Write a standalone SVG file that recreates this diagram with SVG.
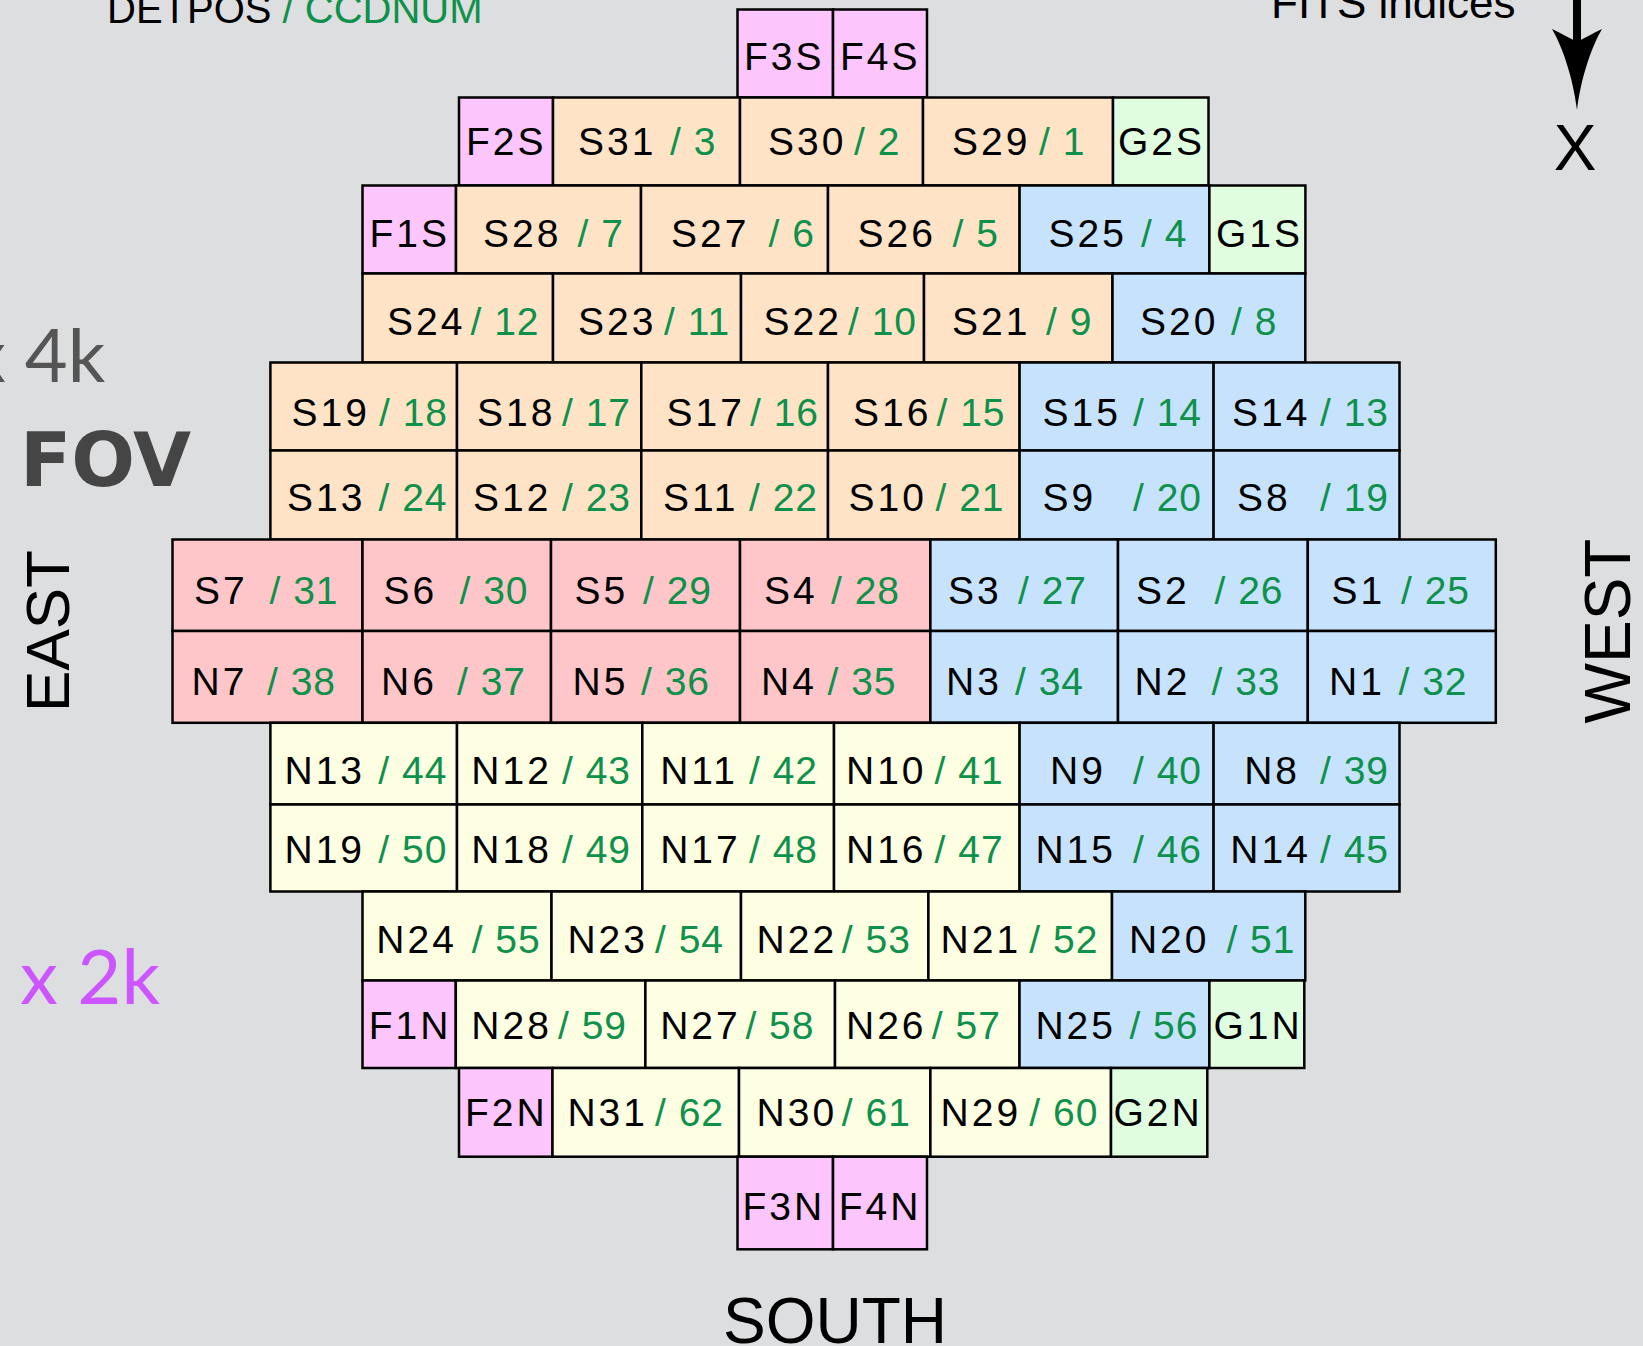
<svg xmlns="http://www.w3.org/2000/svg" width="1643" height="1346" viewBox="0 0 1643 1346">
<style>
.bg{fill:#dddee0}
rect.c{stroke:#000;stroke-width:2.5}
.f{fill:#fcc5fc}.s{fill:#fee3c7}.b{fill:#c6e2fd}.r{fill:#fec6c8}.y{fill:#fefee3}.g{fill:#e0fde0}
text{font-family:"Liberation Sans",Arial,sans-serif}
.t{font-size:39px;fill:#000;letter-spacing:3px}
.gn{fill:#0e914a;letter-spacing:1px}
.lbl{font-size:64px;fill:#000;letter-spacing:0}
</style>
<rect class="bg" x="0" y="0" width="1643" height="1346"/>

<g id="legend">
<text x="107" y="23" style="font-size:40px"><tspan fill="#000">DETPOS </tspan><tspan class="gn" style="letter-spacing:0">/ CCDNUM</tspan></text>
<text x="1271" y="18" style="font-size:44px">FITS indices</text>
<text x="1575" y="170" class="lbl" text-anchor="middle">X</text>
<text x="-31" y="382" style="font-family:Lato,'Liberation Sans',sans-serif;font-size:74px;fill:#555">x 4k</text>
<text x="20" y="486" style="font-family:'DejaVu Sans',sans-serif;font-weight:bold;font-size:75px;fill:#454545">FOV</text>
<text x="20" y="1004" style="font-family:Lato,'Liberation Sans',sans-serif;font-size:76px;fill:#cc55ff">x 2k</text>
<text class="lbl" transform="translate(69,631) rotate(-90)" text-anchor="middle" style="font-size:62px">EAST</text>
<text class="lbl" transform="translate(1630,631) rotate(-90)" text-anchor="middle">WEST</text>
<text class="lbl" x="835" y="1343" text-anchor="middle">SOUTH</text>
</g>

<g id="fits-axis">
<rect x="1573" y="0" width="8" height="45" fill="#000"/>
<path d="M1577,110 C1573,78 1563,48 1552,29 C1562,34 1570,38 1577,42 C1584,38 1592,34 1602,29 C1591,48 1581,78 1577,110 Z" fill="#000"/>
</g>

<g id="connectors"></g>

<!-- Row 0 -->
<g id="F3S"><rect class="c f" x="737.5" y="9.5" width="95.5" height="88"/><text class="t" x="744" y="70">F3S</text></g>
<g id="F4S"><rect class="c f" x="833" y="9.5" width="94" height="88"/><text class="t" x="840" y="70">F4S</text></g>

<!-- Row 1 -->
<g id="F2S"><rect class="c f" x="459" y="97.5" width="94" height="88"/><text class="t" x="466" y="154.5">F2S</text></g>
<g id="S31"><rect class="c s" x="553" y="97.5" width="187" height="88"/><text class="t" y="154.5"><tspan x="578">S31</tspan><tspan class="gn" x="670">/ 3</tspan></text></g>
<g id="S30"><rect class="c s" x="740" y="97.5" width="183" height="88"/><text class="t" y="154.5"><tspan x="768">S30</tspan><tspan class="gn" x="854">/ 2</tspan></text></g>
<g id="S29"><rect class="c s" x="923" y="97.5" width="190" height="88"/><text class="t" y="154.5"><tspan x="952">S29</tspan><tspan class="gn" x="1039">/ 1</tspan></text></g>
<g id="G2S"><rect class="c g" x="1113" y="97.5" width="95.5" height="88"/><text class="t" x="1118" y="154.5">G2S</text></g>

<!-- Row 2 -->
<g id="F1S"><rect class="c f" x="362.5" y="185.5" width="93.5" height="88"/><text class="t" x="369.5" y="246.5">F1S</text></g>
<g id="S28"><rect class="c s" x="456" y="185.5" width="185" height="88"/><text class="t" y="246.5"><tspan x="483">S28</tspan><tspan class="gn" x="577.5">/ 7</tspan></text></g>
<g id="S27"><rect class="c s" x="641" y="185.5" width="187" height="88"/><text class="t" y="246.5"><tspan x="671">S27</tspan><tspan class="gn" x="768.5">/ 6</tspan></text></g>
<g id="S26"><rect class="c s" x="828" y="185.5" width="191.6" height="88"/><text class="t" y="246.5"><tspan x="857.5">S26</tspan><tspan class="gn" x="952.5">/ 5</tspan></text></g>
<g id="S25"><rect class="c b" x="1019.6" y="185.5" width="189.8" height="88"/><text class="t" y="246.5"><tspan x="1048.5">S25</tspan><tspan class="gn" x="1141">/ 4</tspan></text></g>
<g id="G1S"><rect class="c g" x="1209.4" y="185.5" width="96" height="88"/><text class="t" x="1216" y="246.5">G1S</text></g>

<!-- Row 3 -->
<g id="S24"><rect class="c s" x="362.5" y="273.5" width="190.5" height="89"/><text class="t" y="335"><tspan x="387">S24</tspan><tspan class="gn" x="470.5">/ 12</tspan></text></g>
<g id="S23"><rect class="c s" x="553" y="273.5" width="188" height="89"/><text class="t" y="335"><tspan x="578">S23</tspan><tspan class="gn" x="664">/ 11</tspan></text></g>
<g id="S22"><rect class="c s" x="741" y="273.5" width="183" height="89"/><text class="t" y="335"><tspan x="763.5">S22</tspan><tspan class="gn" x="848">/ 10</tspan></text></g>
<g id="S21"><rect class="c s" x="924" y="273.5" width="188.5" height="89"/><text class="t" y="335"><tspan x="952">S21</tspan><tspan class="gn" x="1046">/ 9</tspan></text></g>
<g id="S20"><rect class="c b" x="1112.5" y="273.5" width="192.8" height="89"/><text class="t" y="335"><tspan x="1140">S20</tspan><tspan class="gn" x="1231">/ 8</tspan></text></g>

<!-- Row 4 -->
<g id="S19"><rect class="c s" x="270.4" y="362.5" width="186.6" height="88"/><text class="t" y="425.5"><tspan x="291.5">S19</tspan><tspan class="gn" x="379">/ 18</tspan></text></g>
<g id="S18"><rect class="c s" x="457" y="362.5" width="184.3" height="88"/><text class="t" y="425.5"><tspan x="477">S18</tspan><tspan class="gn" x="562">/ 17</tspan></text></g>
<g id="S17"><rect class="c s" x="641.3" y="362.5" width="186.7" height="88"/><text class="t" y="425.5"><tspan x="666.5">S17</tspan><tspan class="gn" x="750">/ 16</tspan></text></g>
<g id="S16"><rect class="c s" x="828" y="362.5" width="191.6" height="88"/><text class="t" y="425.5"><tspan x="853">S16</tspan><tspan class="gn" x="936.5">/ 15</tspan></text></g>
<g id="S15"><rect class="c b" x="1019.6" y="362.5" width="194" height="88"/><text class="t" y="425.5"><tspan x="1042.5">S15</tspan><tspan class="gn" x="1133">/ 14</tspan></text></g>
<g id="S14"><rect class="c b" x="1213.6" y="362.5" width="185.9" height="88"/><text class="t" y="425.5"><tspan x="1232">S14</tspan><tspan class="gn" x="1320">/ 13</tspan></text></g>

<!-- Row 5 -->
<g id="S13"><rect class="c s" x="270.4" y="450.5" width="186.6" height="89"/><text class="t" y="510.5"><tspan x="287">S13</tspan><tspan class="gn" x="378.5">/ 24</tspan></text></g>
<g id="S12"><rect class="c s" x="457" y="450.5" width="184.3" height="89"/><text class="t" y="510.5"><tspan x="473">S12</tspan><tspan class="gn" x="562">/ 23</tspan></text></g>
<g id="S11"><rect class="c s" x="641.3" y="450.5" width="186.7" height="89"/><text class="t" y="510.5"><tspan x="663">S11</tspan><tspan class="gn" x="749">/ 22</tspan></text></g>
<g id="S10"><rect class="c s" x="828" y="450.5" width="191.6" height="89"/><text class="t" y="510.5"><tspan x="848.5">S10</tspan><tspan class="gn" x="935.5">/ 21</tspan></text></g>
<g id="S9"><rect class="c b" x="1019.6" y="450.5" width="194" height="89"/><text class="t" y="510.5"><tspan x="1042.5">S9</tspan><tspan class="gn" x="1133">/ 20</tspan></text></g>
<g id="S8"><rect class="c b" x="1213.6" y="450.5" width="185.9" height="89"/><text class="t" y="510.5"><tspan x="1237">S8</tspan><tspan class="gn" x="1320">/ 19</tspan></text></g>

<!-- Row 6 -->
<g id="S7"><rect class="c r" x="172.5" y="539.5" width="190" height="91.5"/><text class="t" y="603.5"><tspan x="194">S7</tspan><tspan class="gn" x="269.5">/ 31</tspan></text></g>
<g id="S6"><rect class="c r" x="362.5" y="539.5" width="188.5" height="91.5"/><text class="t" y="603.5"><tspan x="383.5">S6</tspan><tspan class="gn" x="459.5">/ 30</tspan></text></g>
<g id="S5"><rect class="c r" x="551" y="539.5" width="189" height="91.5"/><text class="t" y="603.5"><tspan x="574.5">S5</tspan><tspan class="gn" x="643">/ 29</tspan></text></g>
<g id="S4"><rect class="c r" x="740" y="539.5" width="190.4" height="91.5"/><text class="t" y="603.5"><tspan x="764">S4</tspan><tspan class="gn" x="831">/ 28</tspan></text></g>
<g id="S3"><rect class="c b" x="930.4" y="539.5" width="187.6" height="91.5"/><text class="t" y="603.5"><tspan x="948">S3</tspan><tspan class="gn" x="1018">/ 27</tspan></text></g>
<g id="S2"><rect class="c b" x="1118" y="539.5" width="189.8" height="91.5"/><text class="t" y="603.5"><tspan x="1136">S2</tspan><tspan class="gn" x="1214.5">/ 26</tspan></text></g>
<g id="S1"><rect class="c b" x="1307.8" y="539.5" width="188" height="91.5"/><text class="t" y="603.5"><tspan x="1331.5">S1</tspan><tspan class="gn" x="1401">/ 25</tspan></text></g>

<!-- Row 7 -->
<g id="N7"><rect class="c r" x="172.5" y="631" width="190" height="91.8"/><text class="t" y="694.5"><tspan x="191.5">N7</tspan><tspan class="gn" x="267">/ 38</tspan></text></g>
<g id="N6"><rect class="c r" x="362.5" y="631" width="188.5" height="91.8"/><text class="t" y="694.5"><tspan x="381">N6</tspan><tspan class="gn" x="457">/ 37</tspan></text></g>
<g id="N5"><rect class="c r" x="551" y="631" width="189" height="91.8"/><text class="t" y="694.5"><tspan x="572.5">N5</tspan><tspan class="gn" x="641">/ 36</tspan></text></g>
<g id="N4"><rect class="c r" x="740" y="631" width="190.4" height="91.8"/><text class="t" y="694.5"><tspan x="761">N4</tspan><tspan class="gn" x="827.5">/ 35</tspan></text></g>
<g id="N3"><rect class="c b" x="930.4" y="631" width="187.6" height="91.8"/><text class="t" y="694.5"><tspan x="946">N3</tspan><tspan class="gn" x="1015">/ 34</tspan></text></g>
<g id="N2"><rect class="c b" x="1118" y="631" width="189.8" height="91.8"/><text class="t" y="694.5"><tspan x="1134.5">N2</tspan><tspan class="gn" x="1211.5">/ 33</tspan></text></g>
<g id="N1"><rect class="c b" x="1307.8" y="631" width="188" height="91.8"/><text class="t" y="694.5"><tspan x="1329">N1</tspan><tspan class="gn" x="1398.5">/ 32</tspan></text></g>

<!-- Row 8 -->
<g id="N13"><rect class="c y" x="270.4" y="722.8" width="186.6" height="81.7"/><text class="t" y="784"><tspan x="284.5">N13</tspan><tspan class="gn" x="378.3">/ 44</tspan></text></g>
<g id="N12"><rect class="c y" x="457" y="722.8" width="185.3" height="81.7"/><text class="t" y="784"><tspan x="471.3">N12</tspan><tspan class="gn" x="562">/ 43</tspan></text></g>
<g id="N11"><rect class="c y" x="642.3" y="722.8" width="191.7" height="81.7"/><text class="t" y="784"><tspan x="660.2">N11</tspan><tspan class="gn" x="749">/ 42</tspan></text></g>
<g id="N10"><rect class="c y" x="834" y="722.8" width="185.6" height="81.7"/><text class="t" y="784"><tspan x="846">N10</tspan><tspan class="gn" x="934.6">/ 41</tspan></text></g>
<g id="N9"><rect class="c b" x="1019.6" y="722.8" width="194" height="81.7"/><text class="t" y="784"><tspan x="1050">N9</tspan><tspan class="gn" x="1133">/ 40</tspan></text></g>
<g id="N8"><rect class="c b" x="1213.6" y="722.8" width="185.9" height="81.7"/><text class="t" y="784"><tspan x="1244.2">N8</tspan><tspan class="gn" x="1320">/ 39</tspan></text></g>

<!-- Row 9 -->
<g id="N19"><rect class="c y" x="270.4" y="804.5" width="186.6" height="87"/><text class="t" y="863"><tspan x="284.5">N19</tspan><tspan class="gn" x="378.3">/ 50</tspan></text></g>
<g id="N18"><rect class="c y" x="457" y="804.5" width="185.3" height="87"/><text class="t" y="863"><tspan x="471.3">N18</tspan><tspan class="gn" x="562">/ 49</tspan></text></g>
<g id="N17"><rect class="c y" x="642.3" y="804.5" width="191.7" height="87"/><text class="t" y="863"><tspan x="660.2">N17</tspan><tspan class="gn" x="749">/ 48</tspan></text></g>
<g id="N16"><rect class="c y" x="834" y="804.5" width="185.6" height="87"/><text class="t" y="863"><tspan x="846">N16</tspan><tspan class="gn" x="934.6">/ 47</tspan></text></g>
<g id="N15"><rect class="c b" x="1019.6" y="804.5" width="194" height="87"/><text class="t" y="863"><tspan x="1035.4">N15</tspan><tspan class="gn" x="1133">/ 46</tspan></text></g>
<g id="N14"><rect class="c b" x="1213.6" y="804.5" width="185.9" height="87"/><text class="t" y="863"><tspan x="1230.3">N14</tspan><tspan class="gn" x="1320">/ 45</tspan></text></g>

<!-- Row 10 -->
<g id="N24"><rect class="c y" x="362.5" y="891.5" width="189" height="89"/><text class="t" y="952.5"><tspan x="376.3">N24</tspan><tspan class="gn" x="471.7">/ 55</tspan></text></g>
<g id="N23"><rect class="c y" x="551.5" y="891.5" width="189.5" height="89"/><text class="t" y="952.5"><tspan x="567.4">N23</tspan><tspan class="gn" x="655">/ 54</tspan></text></g>
<g id="N22"><rect class="c y" x="741" y="891.5" width="187.4" height="89"/><text class="t" y="952.5"><tspan x="756.6">N22</tspan><tspan class="gn" x="841.8">/ 53</tspan></text></g>
<g id="N21"><rect class="c y" x="928.4" y="891.5" width="183.6" height="89"/><text class="t" y="952.5"><tspan x="940.6">N21</tspan><tspan class="gn" x="1029.3">/ 52</tspan></text></g>
<g id="N20"><rect class="c b" x="1112" y="891.5" width="193.3" height="89"/><text class="t" y="952.5"><tspan x="1128.9">N20</tspan><tspan class="gn" x="1226.4">/ 51</tspan></text></g>

<!-- Row 11 -->
<g id="F1N"><rect class="c f" x="362.5" y="980.5" width="93.3" height="87.5"/><text class="t" x="368.7" y="1038.5">F1N</text></g>
<g id="N28"><rect class="c y" x="455.8" y="980.5" width="189.6" height="87.5"/><text class="t" y="1038.5"><tspan x="471.3">N28</tspan><tspan class="gn" x="558">/ 59</tspan></text></g>
<g id="N27"><rect class="c y" x="645.4" y="980.5" width="189.6" height="87.5"/><text class="t" y="1038.5"><tspan x="660.2">N27</tspan><tspan class="gn" x="745.4">/ 58</tspan></text></g>
<g id="N26"><rect class="c y" x="835" y="980.5" width="184.5" height="87.5"/><text class="t" y="1038.5"><tspan x="846">N26</tspan><tspan class="gn" x="931.8">/ 57</tspan></text></g>
<g id="N25"><rect class="c b" x="1019.5" y="980.5" width="189.9" height="87.5"/><text class="t" y="1038.5"><tspan x="1035.4">N25</tspan><tspan class="gn" x="1129.4">/ 56</tspan></text></g>
<g id="G1N"><rect class="c g" x="1209.4" y="980.5" width="94.9" height="87.5"/><text class="t" x="1213.5" y="1038.5">G1N</text></g>

<!-- Row 12 -->
<g id="F2N"><rect class="c f" x="459" y="1068" width="93.5" height="88.7"/><text class="t" x="464.9" y="1126">F2N</text></g>
<g id="N31"><rect class="c y" x="552.5" y="1068" width="186.5" height="88.7"/><text class="t" y="1126"><tspan x="567.4">N31</tspan><tspan class="gn" x="655">/ 62</tspan></text></g>
<g id="N30"><rect class="c y" x="739" y="1068" width="191.4" height="88.7"/><text class="t" y="1126"><tspan x="756.6">N30</tspan><tspan class="gn" x="841.8">/ 61</tspan></text></g>
<g id="N29"><rect class="c y" x="930.4" y="1068" width="180.6" height="88.7"/><text class="t" y="1126"><tspan x="940.6">N29</tspan><tspan class="gn" x="1029.3">/ 60</tspan></text></g>
<g id="G2N"><rect class="c g" x="1111" y="1068" width="96.3" height="88.7"/><text class="t" x="1113.5" y="1126">G2N</text></g>

<!-- Row 13 -->
<g id="F3N"><rect class="c f" x="737.5" y="1156.7" width="95.5" height="92.6"/><text class="t" x="742.4" y="1220">F3N</text></g>
<g id="F4N"><rect class="c f" x="833" y="1156.7" width="94" height="92.6"/><text class="t" x="838.8" y="1220">F4N</text></g>
</svg>
